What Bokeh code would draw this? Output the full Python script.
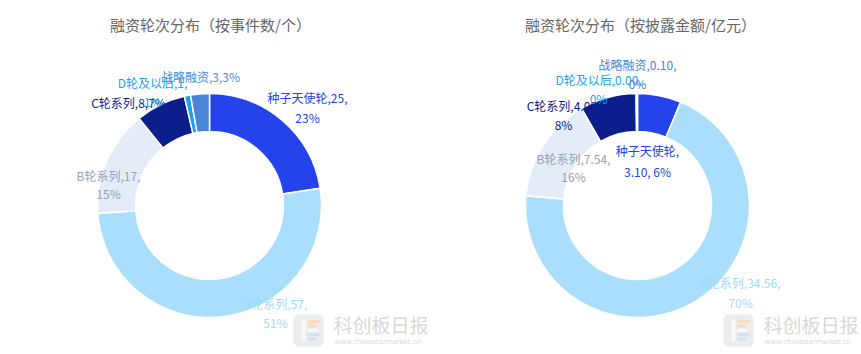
import math
from bokeh.plotting import figure
from bokeh.models import Range1d, ColumnDataSource
from bokeh.core.properties import value
from bokeh.embed import file_html
from bokeh.resources import INLINE

# ---------------- data ----------------
categories = ["种子天使轮", "A轮系列", "B轮系列", "C轮系列", "D轮及以后", "战略融资"]
count_values = [25, 57, 17, 8, 1, 3]
count_labels = ["25", "57", "17", "8", "1", "3"]
count_pcts = ["23%", "51%", "15%", "7%", "1%", "3%"]
amount_values = [3.10, 34.56, 7.54, 4.00, 0.00, 0.10]
amount_labels = ["3.10", "34.56", "7.54", "4.00", "0.00", "0.10"]
amount_pcts = ["6%", "70%", "16%", "8%", "0%", "0%"]
titles = ["融资轮次分布（按事件数/个）", "融资轮次分布（按披露金额/亿元）"]

# ---------------- style / layout ----------------
W, H = 861, 354
FONT = "Noto Sans CJK SC"
slice_colors = ["#2443ea", "#a9dffc", "#e4ecf8", "#0c1e8c", "#1da1f2", "#4a86d8"]
label_colors = ["#2443ea", "#9fd8fb", "#93a1ba", "#0c1e8c", "#1da1f2", "#4a86d8"]
centers = [(209, 205), (637, 205)]
R_OUT, R_IN = 112, 74

# label layout: (x, y of line1, y of line2, split mode) in image pixels
# split: 0 -> one line "name,v,p"; 1 -> "name,v," / "p"; 2 -> "name," / "v, p"
left_layout = [
    (307, 97, 117, 1),
    (275, 303, 322, 1),
    (108, 175, 193, 1),
    (128, 102, None, 0),
    (152, 82, 101, 1),
    (200, 76, None, 0),
]
right_layout = [
    (647, 150, 171, 2),
    (740, 282, 302, 1),
    (573, 158, 176, 1),
    (563, 105, 124, 1),
    (598, 79, 98, 1),
    (637, 64, 83, 1),
]


def Y(y):
    return H - y


p = figure(width=W, height=H, x_range=Range1d(0, W), y_range=Range1d(0, H),
           output_backend="svg", toolbar_location=None, min_border=0,
           background_fill_color="white", border_fill_color="white")
p.axis.visible = False
p.grid.visible = False
p.outline_line_color = None


def donut(center, values, vlabels, pcts, layout):
    total = float(sum(values))
    cx, cy = center
    xs, ys, starts, ends, cols = [], [], [], [], []
    cum = 0.0
    for v, c in zip(values, slice_colors):
        a0 = math.pi / 2 - cum / total * 2 * math.pi
        cum += v
        a1 = math.pi / 2 - cum / total * 2 * math.pi
        if v > 0:
            xs.append(cx)
            ys.append(Y(cy))
            starts.append(a0)
            ends.append(a1)
            cols.append(c)
    src = ColumnDataSource(dict(x=xs, y=ys, s=starts, e=ends, c=cols))
    p.annular_wedge(x="x", y="y", inner_radius=R_IN, outer_radius=R_OUT,
                    start_angle="s", end_angle="e", direction="clock",
                    fill_color="c", line_color="white", line_width=1.5, source=src)
    # labels
    for i, name in enumerate(categories):
        lx, ly1, ly2, mode = layout[i]
        if mode == 0:
            lines = [(f"{name},{vlabels[i]},{pcts[i]}", ly1)]
        elif mode == 1:
            lines = [(f"{name},{vlabels[i]},", ly1), (pcts[i], ly2)]
        else:
            lines = [(f"{name},", ly1), (f"{vlabels[i]}, {pcts[i]}", ly2)]
        for t, yy in lines:
            p.text(x=[lx], y=[Y(yy)], text=[t], text_font=value(FONT),
                   text_font_size="12px", text_color=label_colors[i],
                   text_align="center", text_baseline="middle")


donut(centers[0], count_values, count_labels, count_pcts, left_layout)
donut(centers[1], amount_values, amount_labels, amount_pcts, right_layout)

# titles
for (tx, t) in zip([210, 640], titles):
    p.text(x=[tx], y=[Y(24)], text=[t], text_font=value(FONT), text_font_size="15px",
           text_color="#666666", text_align="center", text_baseline="middle")

# watermarks
for ox in [293, 723]:
    p.rect(x=[ox + 15], y=[Y(330)], width=30, height=32, fill_color="#ececec",
           line_color=None, border_radius=5)
    p.rect(x=[ox + 10], y=[Y(330)], width=4, height=22, fill_color="#f8f8f8", line_color=None)
    for j, (col, w) in enumerate([("#f6dcc2", 12), ("#f6dcc2", 8), ("#f8f8f8", 10),
                                  ("#cbe4f5", 12), ("#cbe4f5", 9)]):
        p.rect(x=[ox + 14 + w / 2], y=[Y(321 + j * 4.4)], width=w, height=3,
               fill_color=col, line_color=None)
    p.text(x=[ox + 40], y=[Y(324)], text=["科创板日报"], text_font=value(FONT),
           text_font_size="19px", text_color="#d8d8d8", text_align="left",
           text_baseline="middle")
    p.text(x=[ox + 41], y=[Y(341)], text=["www.chinastarmarket.cn"], text_font=value("DejaVu Sans"),
           text_font_size="7px", text_color="#dadada", text_align="left",
           text_baseline="middle")

open("out.html", "w").write(file_html(p, INLINE))
